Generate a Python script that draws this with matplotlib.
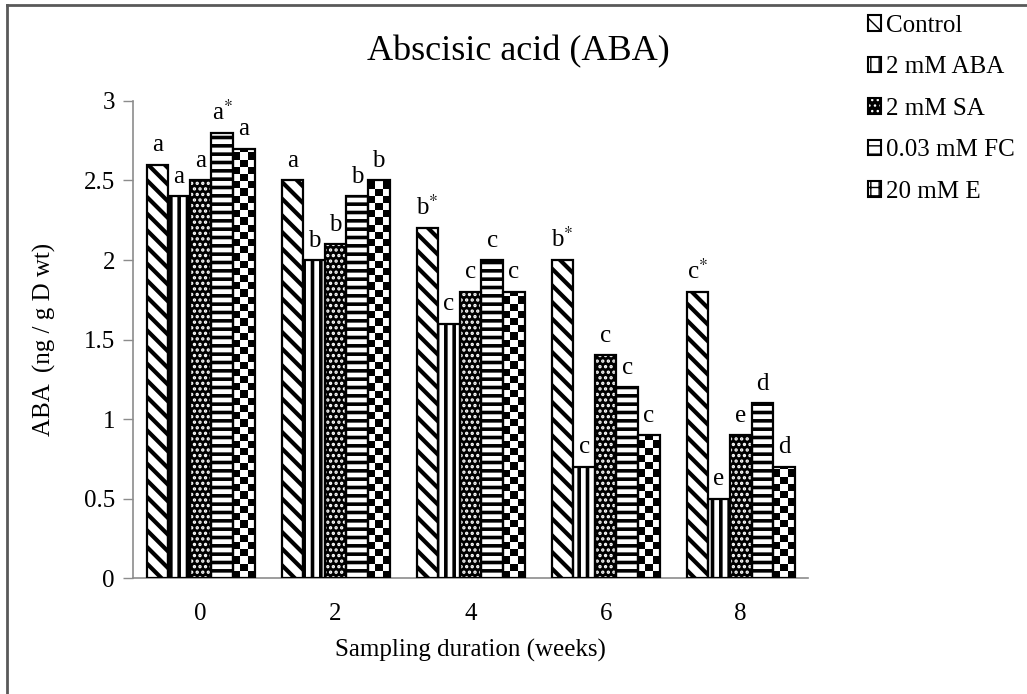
import numpy as np
import matplotlib
matplotlib.use("Agg")
import matplotlib.pyplot as plt
import matplotlib.patches as mpatches
from matplotlib.lines import Line2D

plt.rcParams["font.family"] = ["Liberation Serif", "DejaVu Serif"]
plt.rcParams["mathtext.fontset"] = "stix"

weeks = ["0", "2", "4", "6", "8"]
treatments = ["Control", "2 mM ABA", "2 mM SA", "0.03 mM FC", "20 mM E"]
control = [2.6, 2.5, 2.2, 2.0, 1.8]
aba_2mm = [2.4, 2.0, 1.6, 0.7, 0.5]
sa_2mm = [2.5, 2.1, 1.8, 1.4, 0.9]
fc_003mm = [2.8, 2.4, 2.0, 1.2, 1.1]
e_20mm = [2.7, 2.5, 1.8, 0.9, 0.7]
letters_control = ["a", "a", "b*", "b*", "c*"]
letters_aba = ["a", "b", "c", "c", "e"]
letters_sa = ["a", "b", "c", "c", "e"]
letters_fc = ["a*", "b", "c", "c", "d"]
letters_e = ["a", "b", "c", "c", "d"]

series = [control, aba_2mm, sa_2mm, fc_003mm, e_20mm]
letters = [letters_control, letters_aba, letters_sa, letters_fc, letters_e]
# (facecolor, hatch colour, hatch, hatch width)
styles = [("white", "black", "\\\\", 3.0),
          ("white", "black", "||", 2.6),
          ("black", "white", "...", 1.6),
          ("white", "black", "--", 2.6),
          ("white", "black", None, 1.0)]

fig = plt.figure(figsize=(10.27, 6.94), dpi=100)
ax = fig.add_axes([0.1295, 0.167, 0.6575, 0.6875])

x = np.arange(len(weeks))
w = 0.16
sq = 0.0453  # checker square height in data units

for i, vals in enumerate(series):
    pos = x + (i - 2) * w
    fc, hc, hatch, hlw = styles[i]
    with plt.rc_context({"hatch.linewidth": hlw}):
        bars = ax.bar(pos, vals, w, color=fc, edgecolor=hc,
                      linewidth=0, hatch=hatch, zorder=2)
    if hatch is None:
        # checkerboard fill for the last treatment
        for b, v in zip(bars, vals):
            nrows = int(np.ceil(v / sq))
            cb = np.indices((nrows, 3)).sum(axis=0) % 2
            im = ax.imshow(cb, cmap="gray", interpolation="nearest",
                           extent=(b.get_x(), b.get_x() + w, 0, nrows * sq),
                           aspect="auto", zorder=2.5, origin="lower")
            im.set_clip_path(b)
    ax.bar(pos, vals, w, fill=False, edgecolor="black", linewidth=1.6, zorder=3)
    for p, v, lab in zip(pos, vals, letters[i]):
        txt = lab[0] + (r"$^{*}$" if lab.endswith("*") else "")
        ax.annotate(txt, (p, v), xytext=(0, 6), textcoords="offset points",
                    ha="center", va="bottom", fontsize=18)

ax.set_xlim(-0.5, 4.5)
ax.set_ylim(0, 3)
ax.set_xticks(x)
ax.set_xticklabels(weeks)
ax.set_yticks(np.arange(0, 3.01, 0.5))
ax.set_yticklabels(["0", "0.5", "1", "1.5", "2", "2.5", "3"])
ax.tick_params(axis="x", length=0, pad=18, labelsize=18)
ax.tick_params(axis="y", length=7, color="#8c8c8c", width=1, pad=6, labelsize=18)
for s in ["top", "right"]:
    ax.spines[s].set_visible(False)
for s in ["left", "bottom"]:
    ax.spines[s].set_color("#8c8c8c")
    ax.spines[s].set_linewidth(1.2)

ax.set_xlabel("Sampling duration (weeks)", fontsize=18, labelpad=10)
ax.set_ylabel("ABA  (ng / g D wt)", fontsize=18, labelpad=20)
fig.text(0.505, 0.925, "Abscisic acid (ABA)", ha="center", va="center", fontsize=26)

handles = []
for i, name in enumerate(treatments):
    fc, hc, hatch, hlw = styles[i]
    with plt.rc_context({"hatch.linewidth": 1.2}):
        fill = mpatches.Patch(facecolor=fc, edgecolor=hc, linewidth=0,
                              hatch=hatch if hatch else "++")
    outline = mpatches.Patch(fill=False, edgecolor="black", linewidth=1.5)
    handles.append((fill, outline))
fig.legend(handles=handles, labels=treatments, loc="upper left",
           bbox_to_anchor=(0.835, 0.993),
           frameon=False, fontsize=18, handlelength=0.55, handleheight=0.55,
           handletextpad=0.2, labelspacing=0.78, borderaxespad=0)

# outer frame (left and top edges)
fig.add_artist(Line2D([0.0068, 0.0068], [0.0, 0.993], transform=fig.transFigure,
                      color="#595959", linewidth=2))
fig.add_artist(Line2D([0.0068, 1.0], [0.993, 0.993], transform=fig.transFigure,
                      color="#595959", linewidth=2))

fig.savefig("out.png", dpi=100)
